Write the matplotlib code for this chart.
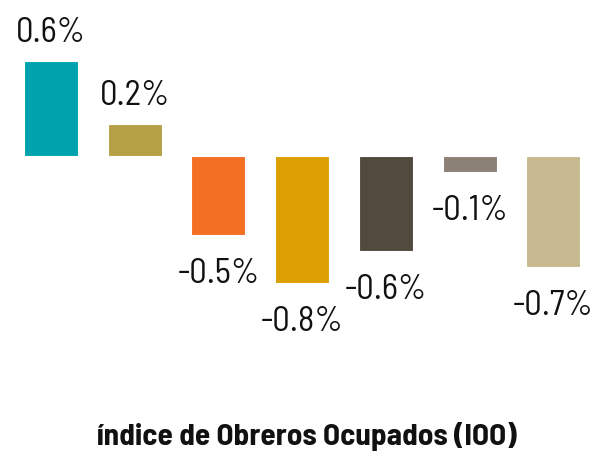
import matplotlib.pyplot as plt

categories = ['A', 'B', 'C', 'D', 'E', 'F', 'G']
values = [0.6, 0.2, -0.5, -0.8, -0.6, -0.1, -0.7]
labels = ['0.6%', '0.2%', '-0.5%', '-0.8%', '-0.6%', '-0.1%', '-0.7%']
colors = ['#00A3AD', '#B5A045', '#F26F24', '#DC9E00', '#524A3F', '#8C8177', '#C7B990']
title = 'índice de Obreros Ocupados (IOO)'

plt.rcParams['font.family'] = ['Barlow Semi Condensed', 'DejaVu Sans']

fig = plt.figure(figsize=(5.94, 4.52), dpi=100)
ax = fig.add_axes([0, 0, 1, 1])

x = list(range(len(values)))
ax.bar(x, values, width=0.645, color=colors, edgecolor='white', linewidth=0.8)

for xi, v, lab in zip(x, values, labels):
    off = 21 if v > 0 else -27.5
    ax.annotate(lab, (xi, v), xytext=(0, off), textcoords='offset points',
                ha='center', va='center', fontsize=25, color='#111111')

ax.set_xlim(-0.609, 6.484)
ax.set_ylim(-1.864, 0.992)
ax.axis('off')

fig.text(0.517, 1 - 437 / 452, title, ha='center', va='center',
         fontsize=22.5, fontweight='bold', color='#111111')

fig.savefig('out.png', dpi=100)
